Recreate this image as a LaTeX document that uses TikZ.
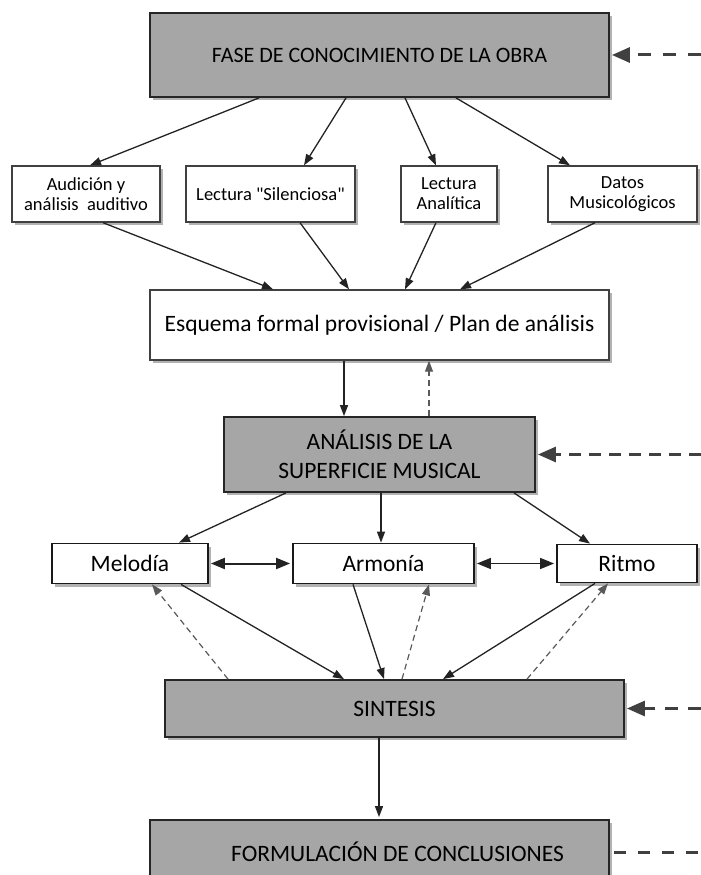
\documentclass[tikz,border=0pt]{standalone}
\usepackage{fontspec}
\setmainfont{Carlito}[Ligatures=TeXOff]
\usetikzlibrary{arrows.meta,shadows}
\definecolor{boxgrey}{RGB}{166,166,166}
\definecolor{linegrey}{RGB}{35,35,35}
\begin{document}
\begin{tikzpicture}[x=1pt,y=-1pt,
  shadowed/.style={drop shadow={shadow xshift=3pt,shadow yshift=-3pt,opacity=0.3,fill=black}},
  greybox/.style={shadowed,draw=black!85,line width=1.8pt,fill=boxgrey,inner sep=0pt,align=center,
    font=\fontsize{23.5pt}{29pt}\selectfont},
  whitebox/.style={shadowed,draw=black!75,line width=1.4pt,fill=white,inner sep=0pt,align=center},
  smallbox/.style={whitebox,font=\fontsize{18.5pt}{20pt}\selectfont,minimum height=56pt},
  midbox/.style={whitebox,draw=black!90,line width=1.8pt,font=\fontsize{23.5pt}{28pt}\selectfont,minimum height=40pt},
  conn/.style={draw=linegrey,line width=1.3pt,-{Triangle[length=11pt,width=8pt]}},
  back/.style={draw=black!65,line width=1.2pt,dash pattern=on 6pt off 4pt,-{Triangle[length=11pt,width=8pt]}},
  both/.style={draw=linegrey,line width=2pt,{Triangle[length=14pt,width=11pt]}-{Triangle[length=14pt,width=11pt]}},
  feed/.style={draw=black!75,line width=3pt,shorten >=2pt,-{Triangle[length=18pt,width=15pt]}},
]
\useasboundingbox (0,0) rectangle (701,875);

% boxes
\node[greybox,minimum width=459pt,minimum height=84pt,font=\fontsize{22pt}{26pt}\selectfont] (fase) at (379.5,55) {FASE DE CONOCIMIENTO DE LA OBRA};

\node[smallbox,minimum width=148pt] (aud) at (86,194) {Audición y\\análisis\ \ auditivo};
\node[smallbox,minimum width=169pt] (sil) at (270.5,194) {Lectura "Silenciosa"};
\node[smallbox,minimum width=96pt] (ana) at (449,194) {Lectura\\Analítica};
\node[smallbox,minimum width=149pt] (dat) at (622.5,194) {Datos\\Musicológicos};

\node[whitebox,minimum width=459pt,minimum height=70pt,font=\fontsize{23.5pt}{28pt}\selectfont] (esq) at (379.5,325) {Esquema formal provisional / Plan de análisis};

\node[greybox,minimum width=311pt,minimum height=75pt] (anl) at (379.5,454.5) {ANÁLISIS DE LA\\SUPERFICIE MUSICAL};

\node[midbox,minimum width=156pt] (mel) at (130,563.5) {Melodía};
\node[midbox,minimum width=181pt] (arm) at (383.5,563.5) {Armonía};
\node[midbox,minimum width=140pt,minimum height=38pt] (rit) at (627,563.5) {Ritmo};

\node[greybox,minimum width=459pt,minimum height=57pt] (sin) at (394.5,708.5) {SINTESIS};

\node[greybox,minimum width=459pt,minimum height=64pt] (form) at (379.5,852) {\hspace*{36pt}FORMULACIÓN DE CONCLUSIONES};

% fase -> row 2
\draw[conn] ([xshift=-120.5pt]fase.south) -- ([xshift=4pt]aud.north);
\draw[conn] ([xshift=-33.5pt]fase.south) -- ([xshift=33.5pt]sil.north);
\draw[conn] ([xshift=25.5pt]fase.south) -- ([xshift=-13pt]ana.north);
\draw[conn] ([xshift=76.5pt]fase.south) -- ([xshift=-52.5pt]dat.north);

% row 2 -> esquema
\draw[conn] ([xshift=17pt]aud.south) -- ([xshift=-106.5pt]esq.north);
\draw[conn] ([xshift=29.5pt]sil.south) -- ([xshift=-30.5pt]esq.north);
\draw[conn] ([xshift=-13pt]ana.south) -- ([xshift=25.5pt]esq.north);
\draw[conn] ([xshift=-27.5pt]dat.south) -- ([xshift=80.5pt]esq.north);

% esquema <-> analisis
\draw[conn] ([xshift=-35.5pt]esq.south) -- ([xshift=-35.5pt]anl.north);
\draw[back] ([xshift=49.5pt]anl.north) -- ([xshift=49.5pt]esq.south);

% analisis -> row 3
\draw[conn] ([xshift=-93.5pt]anl.south) -- ([xshift=49pt]mel.north);
\draw[conn] ([xshift=1.5pt]anl.south) -- ([xshift=-2.5pt]arm.north);
\draw[conn] ([xshift=134.5pt]anl.south) -- ([xshift=-37pt]rit.north);

% row 3 lateral
\draw[both] ([xshift=2pt]mel.east) -- ([xshift=-2pt]arm.west);
\draw[both,line width=1.5pt] ([xshift=2pt]arm.east) -- ([xshift=-2pt]rit.west);

% row 3 -> sintesis
\draw[conn] ([xshift=51pt]mel.south) -- ([xshift=-50.5pt]sin.north);
\draw[conn] ([xshift=-30.5pt]arm.south) -- ([xshift=-10.5pt]sin.north);
\draw[conn] ([xshift=-32pt]rit.south) -- ([xshift=48.5pt]sin.north);

% sintesis -> row 3 (dashed)
\draw[back] ([xshift=-166.5pt]sin.north) -- ([xshift=22pt]mel.south);
\draw[back] ([xshift=7.5pt]sin.north) -- ([xshift=45.5pt]arm.south);
\draw[back] ([xshift=132.5pt]sin.north) -- ([xshift=-19pt]rit.south);

% sintesis -> formulacion
\draw[conn] ([xshift=-15.5pt]sin.south) -- ([xshift=-0.5pt,yshift=2pt]form.north);

% feedback from the right
\coordinate (r1) at (701,55);
\coordinate (r2) at (701,454.5);
\coordinate (r3) at (701,708.5);
\coordinate (r4) at (701,852);
\draw[feed,dash pattern=on 13pt off 12pt] (r1) -- (fase.east);
\draw[feed,dash pattern=on 12pt off 8pt] (r2) -- (anl.east);
\draw[feed,dash pattern=on 13pt off 10pt] (r3) -- (sin.east);
\draw[draw=black!75,line width=3pt,dash pattern=on 12pt off 12pt] ([xshift=4pt]form.east) -- (r4);
\end{tikzpicture}
\end{document}
